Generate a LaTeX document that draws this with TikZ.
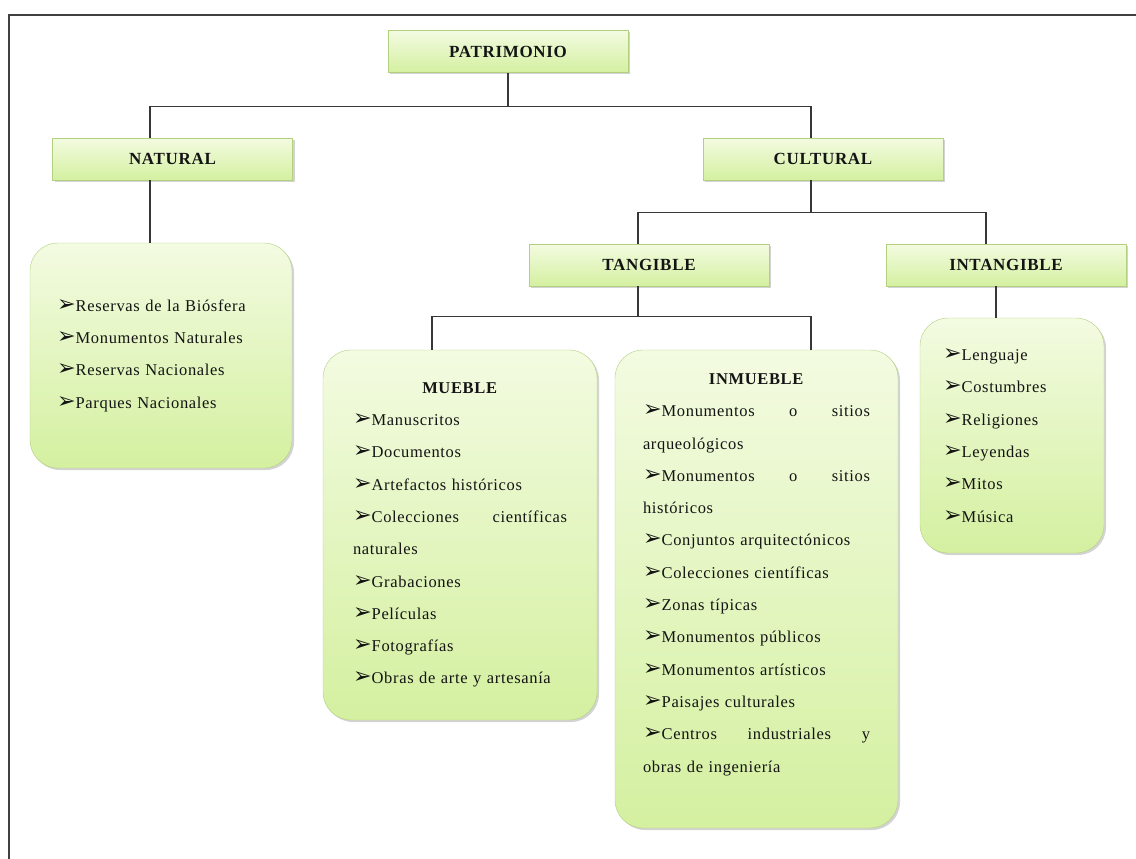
\documentclass[tikz,border=0pt]{standalone}
\usepackage{graphicx}
\usepackage{fontspec}
\setmainfont{Liberation Serif}[LetterSpace=4]
\newfontfamily\symfont{DejaVu Sans}
\usepackage{tikz}
\usetikzlibrary{positioning,shadows}
\definecolor{boxtop}{RGB}{243,251,225}
\definecolor{boxbot}{RGB}{212,240,160}
\definecolor{boxline}{RGB}{178,208,128}
\definecolor{wirecol}{RGB}{55,55,55}
\definecolor{ink}{RGB}{20,20,20}
\newcommand\itm{{\symfont\bfseries\scalebox{1.35}{\char"27A2}}}

\begin{document}
\begin{tikzpicture}[x=1pt, y=-1pt,
  hdr/.style={draw=boxline, top color=boxtop, bottom color=boxbot, minimum width=240pt, minimum height=42pt,
    font=\fontsize{17}{20}\selectfont\bfseries, text=ink, drop shadow={opacity=0.35, shadow xshift=2pt, shadow yshift=-2pt}},
  lst/.style={draw=boxline, top color=boxtop, bottom color=boxbot, rounded corners=28pt, align=left,
    font=\fontsize{16.5}{32.3}\selectfont, text=ink, drop shadow={opacity=0.35, shadow xshift=2pt, shadow yshift=-2pt}},
  wire/.style={draw=wirecol, line width=1.2pt}]
\useasboundingbox (0,0) rectangle (1136,859);
\draw[line width=1.5pt, draw=black!75] (9,859) -- (9,15) -- (1136,15);
% headers
\node[hdr] (pat) at (508,51.5) {PATRIMONIO};
\node[hdr] (nat) at (172.5,159) {NATURAL};
\node[hdr] (cul) at (823,159) {CULTURAL};
\node[hdr] (tan) at (649,265) {TANGIBLE};
\node[hdr] (intan) at (1006,265) {INTANGIBLE};
% lists
\node[lst, text width=208pt, inner xsep=27pt, minimum height=225pt] (natlist) at (161,355.5)
  {\itm Reservas de la Biósfera\\ \itm Monumentos Naturales\\ \itm Reservas Nacionales\\ \itm Parques Nacionales};
\node[lst, text width=214pt, inner xsep=30pt, minimum height=370pt] (mue) at (460,535)
  {\hfill\textbf{MUEBLE}\hfill\mbox{}\\ \itm Manuscritos\\ \itm Documentos\\ \itm Artefactos históricos\\
   \itm Colecciones\hfill científicas\\ naturales\\ \itm Grabaciones\\ \itm Películas\\ \itm Fotografías\\
   \itm Obras de arte y artesanía};
\node[lst, text width=227pt, inner xsep=28pt, minimum height=478pt] (inm) at (756.5,589)
  {\hfill\textbf{INMUEBLE}\hfill\mbox{}\\ \itm Monumentos\hfill o\hfill sitios\\ arqueológicos\\
   \itm Monumentos\hfill o\hfill sitios\\ históricos\\ \itm Conjuntos arquitectónicos\\
   \itm Colecciones científicas\\ \itm Zonas típicas\\ \itm Monumentos públicos\\
   \itm Monumentos artísticos\\ \itm Paisajes culturales\\ \itm Centros\hfill industriales\hfill y\\
   obras de ingeniería\\ \mbox{}};
\node[lst, text width=138pt, inner xsep=23pt, minimum height=235pt] (intlist) at (1012,435.5)
  {\itm Lenguaje\\ \itm Costumbres\\ \itm Religiones\\ \itm Leyendas\\ \itm Mitos\\ \itm Música};
% connectors
\draw[wire] (pat.south) -- ++(0,34) coordinate (j1);
\draw[wire] ([xshift=-22.5pt]nat.north) |- (j1) -| ([xshift=-12pt]cul.north);
\draw[wire] ([xshift=-22.5pt]nat.south) -- ([xshift=-22.5pt]nat.south |- natlist.north);
\draw[wire] ([xshift=-12pt]cul.south) -- ++(0,32) coordinate (j2);
\draw[wire] ([xshift=-11pt]tan.north) |- (j2) -| ([xshift=-20pt]intan.north);
\draw[wire] ([xshift=-11pt]tan.south) -- ++(0,30) coordinate (j3);
\draw[wire] ([xshift=-28pt]mue.north) |- (j3) -| ([xshift=54.5pt]inm.north);
\draw[wire] ([xshift=-10pt]intan.south) -- ([xshift=-10pt]intan.south |- intlist.north);
\end{tikzpicture}
\end{document}
